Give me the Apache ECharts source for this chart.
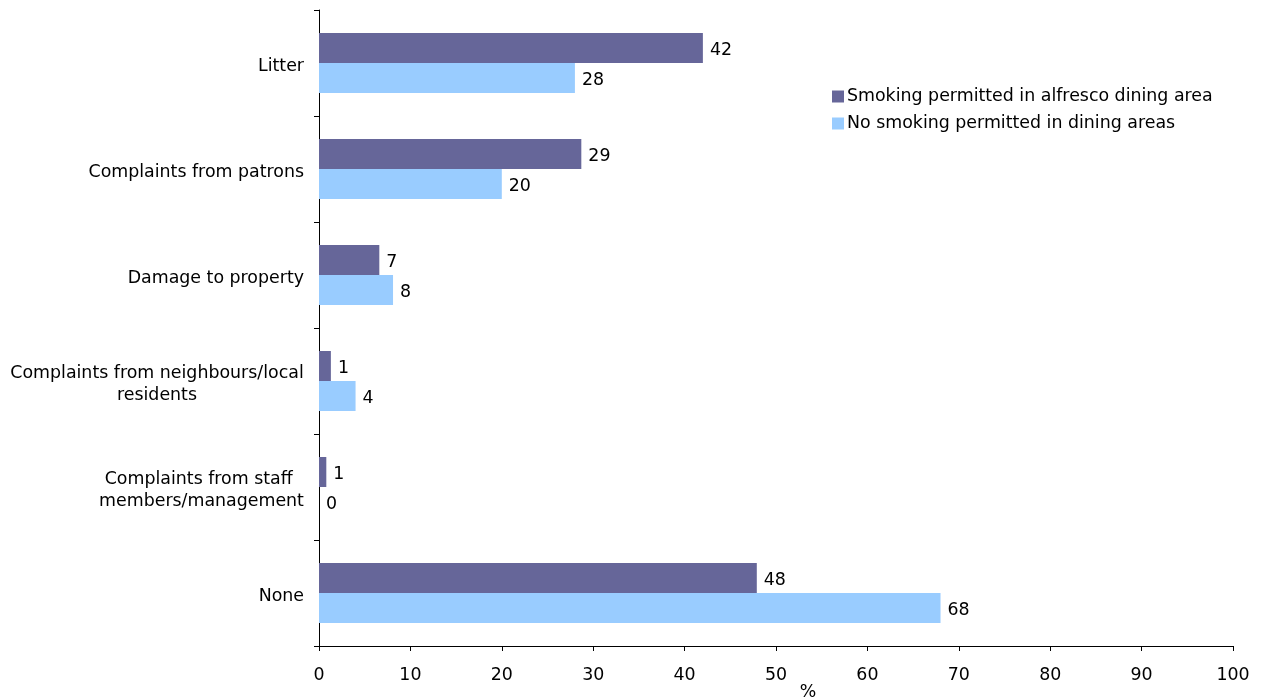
<!DOCTYPE html>
<html>
<head>
<meta charset="utf-8">
<script src="https://cdn.jsdelivr.net/npm/echarts@6/dist/echarts.min.js"></script>
<style>html,body{margin:0;padding:0;background:#fff}#c{width:1264px;height:697px}</style>
</head>
<body>
<div id="c"></div>
<script>
const categories = ["Litter", "Complaints from patrons", "Damage to property", "Complaints from neighbours/local\nresidents", "Complaints from staff \nmembers/management", "None"];
const seriesNames = ["Smoking permitted in alfresco dining area", "No smoking permitted in dining areas"];
const smokingPermitted = [42, 28.7, 6.6, 1.3, 0.8, 47.9];
const noSmoking = [28, 20, 8.1, 4, 0, 68];
const xTicks = [0, 10, 20, 30, 40, 50, 60, 70, 80, 90, 100];

const FONT = "DejaVu Sans";
const FS = 17.4;
const ctx = document.createElement('canvas').getContext('2d');
ctx.font = FS + 'px "' + FONT + '"';
function lineWidth(v) {
  return Math.ceil(Math.max(...v.split('\n').map(l => ctx.measureText(l).width)));
}
function catLabel(v) {
  const lines = v.split('\n');
  if (lines.length === 1) return v;
  const w = lineWidth(v);
  return lines.map(l => '{c' + w + '|' + l + '}').join('\n');
}
const rich = {};
categories.forEach(v => {
  if (v.indexOf('\n') >= 0) {
    const w = lineWidth(v);
    rich['c' + w] = {width: w, align: 'center', fontFamily: FONT, fontSize: FS, color: '#000', lineHeight: 22};
  }
});

const chart = echarts.init(document.getElementById('c'));
const lbl = {show: true, position: 'right', distance: 7, offset: [0, 2], color: '#000', fontFamily: FONT, fontSize: FS,
  formatter: p => String(Math.round(p.value))};
chart.setOption({
  animation: false,
  textStyle: {fontFamily: FONT},
  grid: {left: 319, right: 31, top: 10, bottom: 51, outerBoundsMode: 'none', containLabel: false},
  legend: {
    orient: 'vertical', left: 832, top: 88, padding: 0, itemWidth: 12, itemHeight: 12, itemGap: 10,
    icon: 'rect', textStyle: {fontFamily: FONT, fontSize: FS, color: '#000', padding: [0,0,0,-2]},
    data: seriesNames
  },
  xAxis: {
    type: 'value', min: xTicks[0], max: xTicks[xTicks.length-1], interval: 10,
    name: '%', nameLocation: 'middle', nameGap: 46, nameMoveOverlap: false,
    nameTextStyle: {fontFamily: FONT, fontSize: FS, color: '#000', verticalAlign: 'middle', align: 'center',
      padding: [0, 0, 0, 64]},
    axisLine: {show: true, lineStyle: {color: '#000', width: 1}},
    axisTick: {show: true, length: 5, lineStyle: {color: '#000'}},
    axisLabel: {color: '#000', fontFamily: FONT, fontSize: FS, margin: 21},
    splitLine: {show: false}
  },
  yAxis: {
    type: 'category', inverse: true, data: categories,
    axisLine: {show: true, lineStyle: {color: '#000', width: 1}},
    axisTick: {show: true, length: 5, lineStyle: {color: '#000'}},
    axisLabel: {color: '#000', fontFamily: FONT, fontSize: FS, margin: 15, align: 'right', lineHeight: 22,
      padding: [6, 0, 0, 0], formatter: catLabel, rich: rich},
  },
  series: [
    {name: seriesNames[0], type: 'bar', data: smokingPermitted, barWidth: 30, barGap: '0%',
      itemStyle: {color: '#666699'}, label: lbl},
    {name: seriesNames[1], type: 'bar', data: noSmoking, barWidth: 30, barGap: '0%',
      itemStyle: {color: '#99ccff'}, label: lbl}
  ]
});
</script>
</body>
</html>
